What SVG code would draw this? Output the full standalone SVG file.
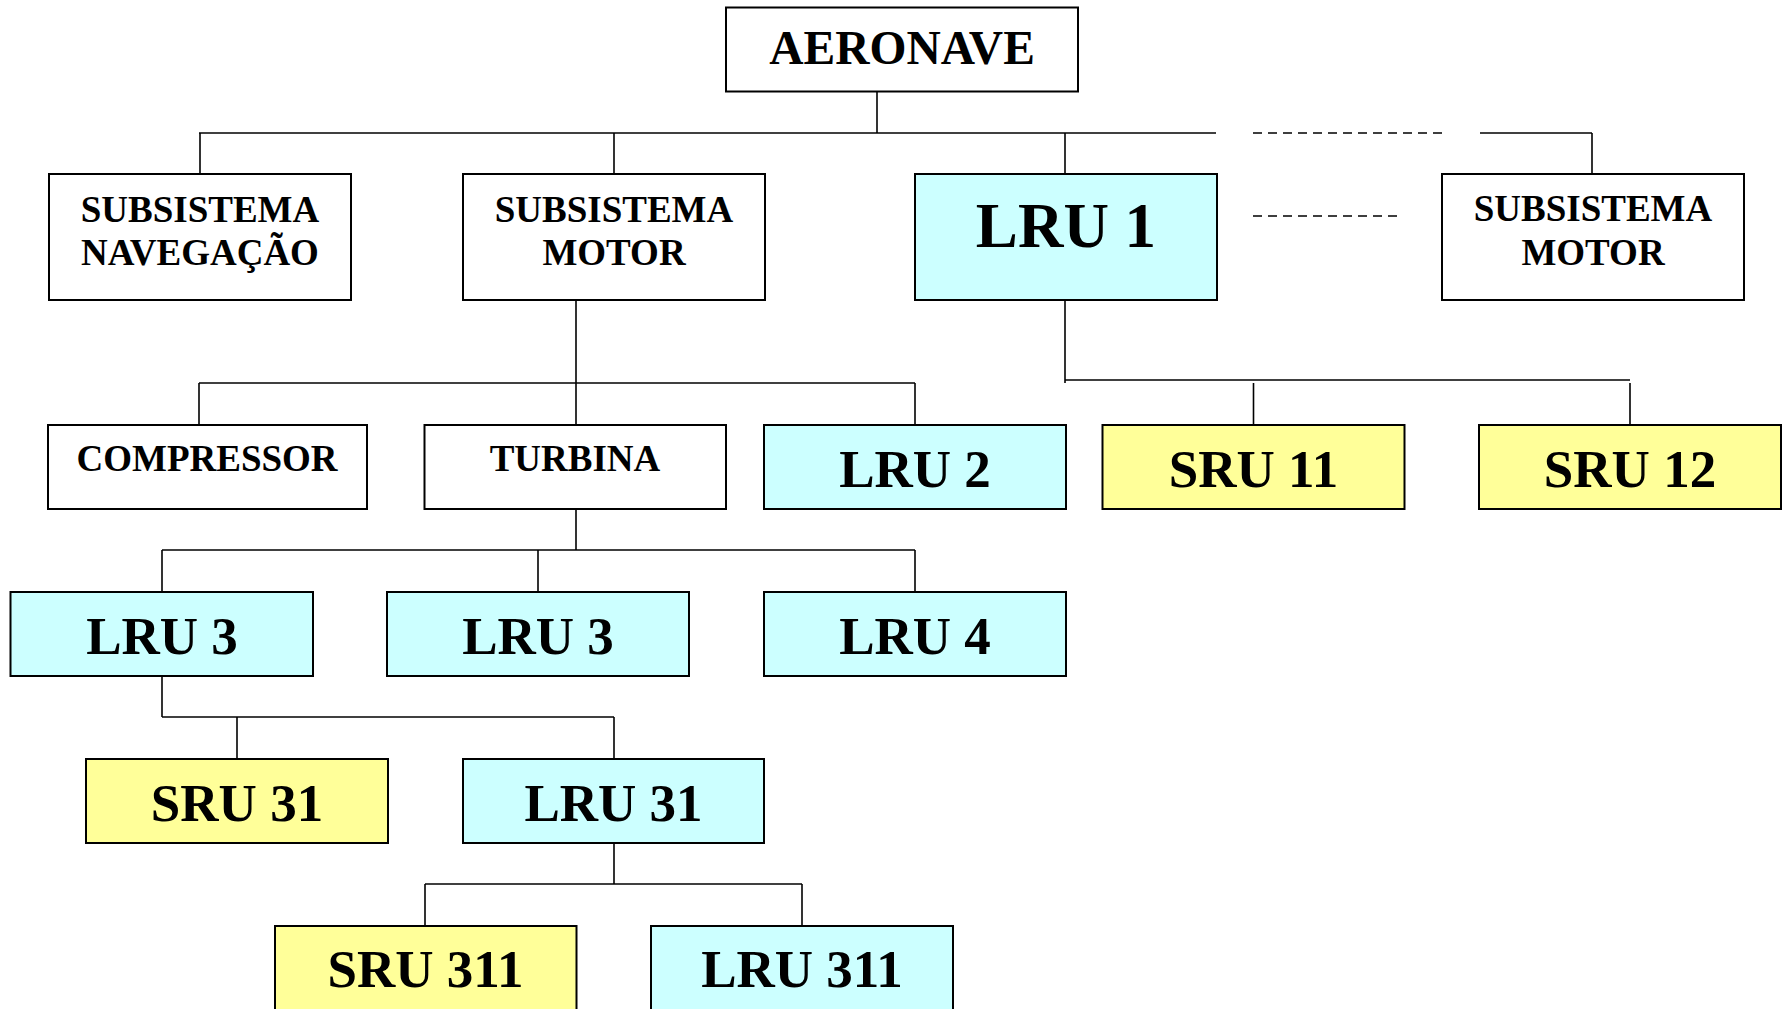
<svg xmlns="http://www.w3.org/2000/svg" width="1787" height="1009" viewBox="0 0 1787 1009">
<style>
.box{stroke:#000;stroke-width:2;fill:#fff}
.lru{fill:#CCFFFF}
.sru{fill:#FFFF99}
.t{font-family:"Liberation Serif","Times New Roman",serif;font-weight:bold;text-anchor:middle;fill:#000}
.s{font-size:37px}
.b{font-size:53px}
.c line{stroke:#000;stroke-width:1.6}
.c .d{stroke-dasharray:9 6}
</style>
<rect width="1787" height="1009" fill="#fff"/>
<g class="c" id="connectors">
<line x1="877" y1="92" x2="877" y2="133"/>
<line x1="199" y1="133" x2="1216" y2="133"/>
<line class="d" x1="1253" y1="133" x2="1442" y2="133"/>
<line x1="1480" y1="133" x2="1592" y2="133"/>
<line x1="1592" y1="133" x2="1592" y2="174"/>
<line x1="200" y1="133" x2="200" y2="174"/>
<line x1="614" y1="133" x2="614" y2="174"/>
<line x1="1065" y1="133" x2="1065" y2="174"/>
<line class="d" x1="1253" y1="216" x2="1402" y2="216"/>
<line x1="576" y1="300" x2="576" y2="425"/>
<line x1="199" y1="383" x2="915" y2="383"/>
<line x1="199" y1="383" x2="199" y2="425"/>
<line x1="915" y1="383" x2="915" y2="425"/>
<line x1="1065" y1="300" x2="1065" y2="383"/>
<line x1="1065" y1="380" x2="1630" y2="380"/>
<line x1="1253.5" y1="383" x2="1253.5" y2="425"/>
<line x1="1630" y1="383" x2="1630" y2="425"/>
<line x1="576" y1="509" x2="576" y2="550"/>
<line x1="162" y1="550" x2="915" y2="550"/>
<line x1="162" y1="550" x2="162" y2="592"/>
<line x1="538" y1="550" x2="538" y2="592"/>
<line x1="915" y1="550" x2="915" y2="592"/>
<line x1="162" y1="676" x2="162" y2="717"/>
<line x1="162" y1="717" x2="614" y2="717"/>
<line x1="237" y1="717" x2="237" y2="759"/>
<line x1="614" y1="717" x2="614" y2="759"/>
<line x1="614" y1="843" x2="614" y2="884"/>
<line x1="425" y1="884" x2="802" y2="884"/>
<line x1="425" y1="884" x2="425" y2="926"/>
<line x1="802" y1="884" x2="802" y2="926"/>
</g>
<g id="aeronave"><rect class="box" x="726" y="7.5" width="352" height="84"/><text class="t" x="902" y="63.5" font-size="47.5">AERONAVE</text></g>
<g id="sub-nav"><rect class="box" x="49" y="174" width="302" height="126"/><text class="t s" x="200" y="221.7">SUBSISTEMA</text><text class="t s" x="200" y="265">NAVEGAÇÃO</text></g>
<g id="sub-motor"><rect class="box" x="463" y="174" width="302" height="126"/><text class="t s" x="614" y="221.7">SUBSISTEMA</text><text class="t s" x="614" y="265">MOTOR</text></g>
<g id="lru1"><rect class="box lru" x="915" y="174" width="302" height="126"/><text class="t" x="1066" y="246.7" font-size="63">LRU 1</text></g>
<g id="sub-motor-2"><rect class="box" x="1442" y="174" width="302" height="126"/><text class="t s" x="1593" y="221">SUBSISTEMA</text><text class="t s" x="1593" y="265">MOTOR</text></g>
<g id="compressor"><rect class="box" x="48" y="425" width="319" height="84"/><text class="t s" x="207" y="470.7">COMPRESSOR</text></g>
<g id="turbina"><rect class="box" x="424.5" y="425" width="301.5" height="84"/><text class="t s" x="575" y="470.7">TURBINA</text></g>
<g id="lru2"><rect class="box lru" x="764" y="425" width="302" height="84"/><text class="t b" x="915" y="487.3">LRU 2</text></g>
<g id="sru11"><rect class="box sru" x="1102.5" y="425" width="302" height="84"/><text class="t b" x="1253.5" y="487.3">SRU 11</text></g>
<g id="sru12"><rect class="box sru" x="1479" y="425" width="302" height="84"/><text class="t b" x="1630" y="487.3">SRU 12</text></g>
<g id="lru3a"><rect class="box lru" x="10.5" y="592" width="302.5" height="84"/><text class="t b" x="162" y="654">LRU 3</text></g>
<g id="lru3b"><rect class="box lru" x="387" y="592" width="302" height="84"/><text class="t b" x="538" y="654">LRU 3</text></g>
<g id="lru4"><rect class="box lru" x="764" y="592" width="302" height="84"/><text class="t b" x="915" y="654">LRU 4</text></g>
<g id="sru31"><rect class="box sru" x="86" y="759" width="302" height="84"/><text class="t b" x="237" y="820.7">SRU 31</text></g>
<g id="lru31"><rect class="box lru" x="463" y="759" width="301" height="84"/><text class="t b" x="613.5" y="820.7">LRU 31</text></g>
<g id="sru311"><rect class="box sru" x="275" y="926" width="301.5" height="90"/><text class="t b" x="425.5" y="987.3">SRU 311</text></g>
<g id="lru311"><rect class="box lru" x="651" y="926" width="302" height="90"/><text class="t b" x="802" y="987.3">LRU 311</text></g>
</svg>
